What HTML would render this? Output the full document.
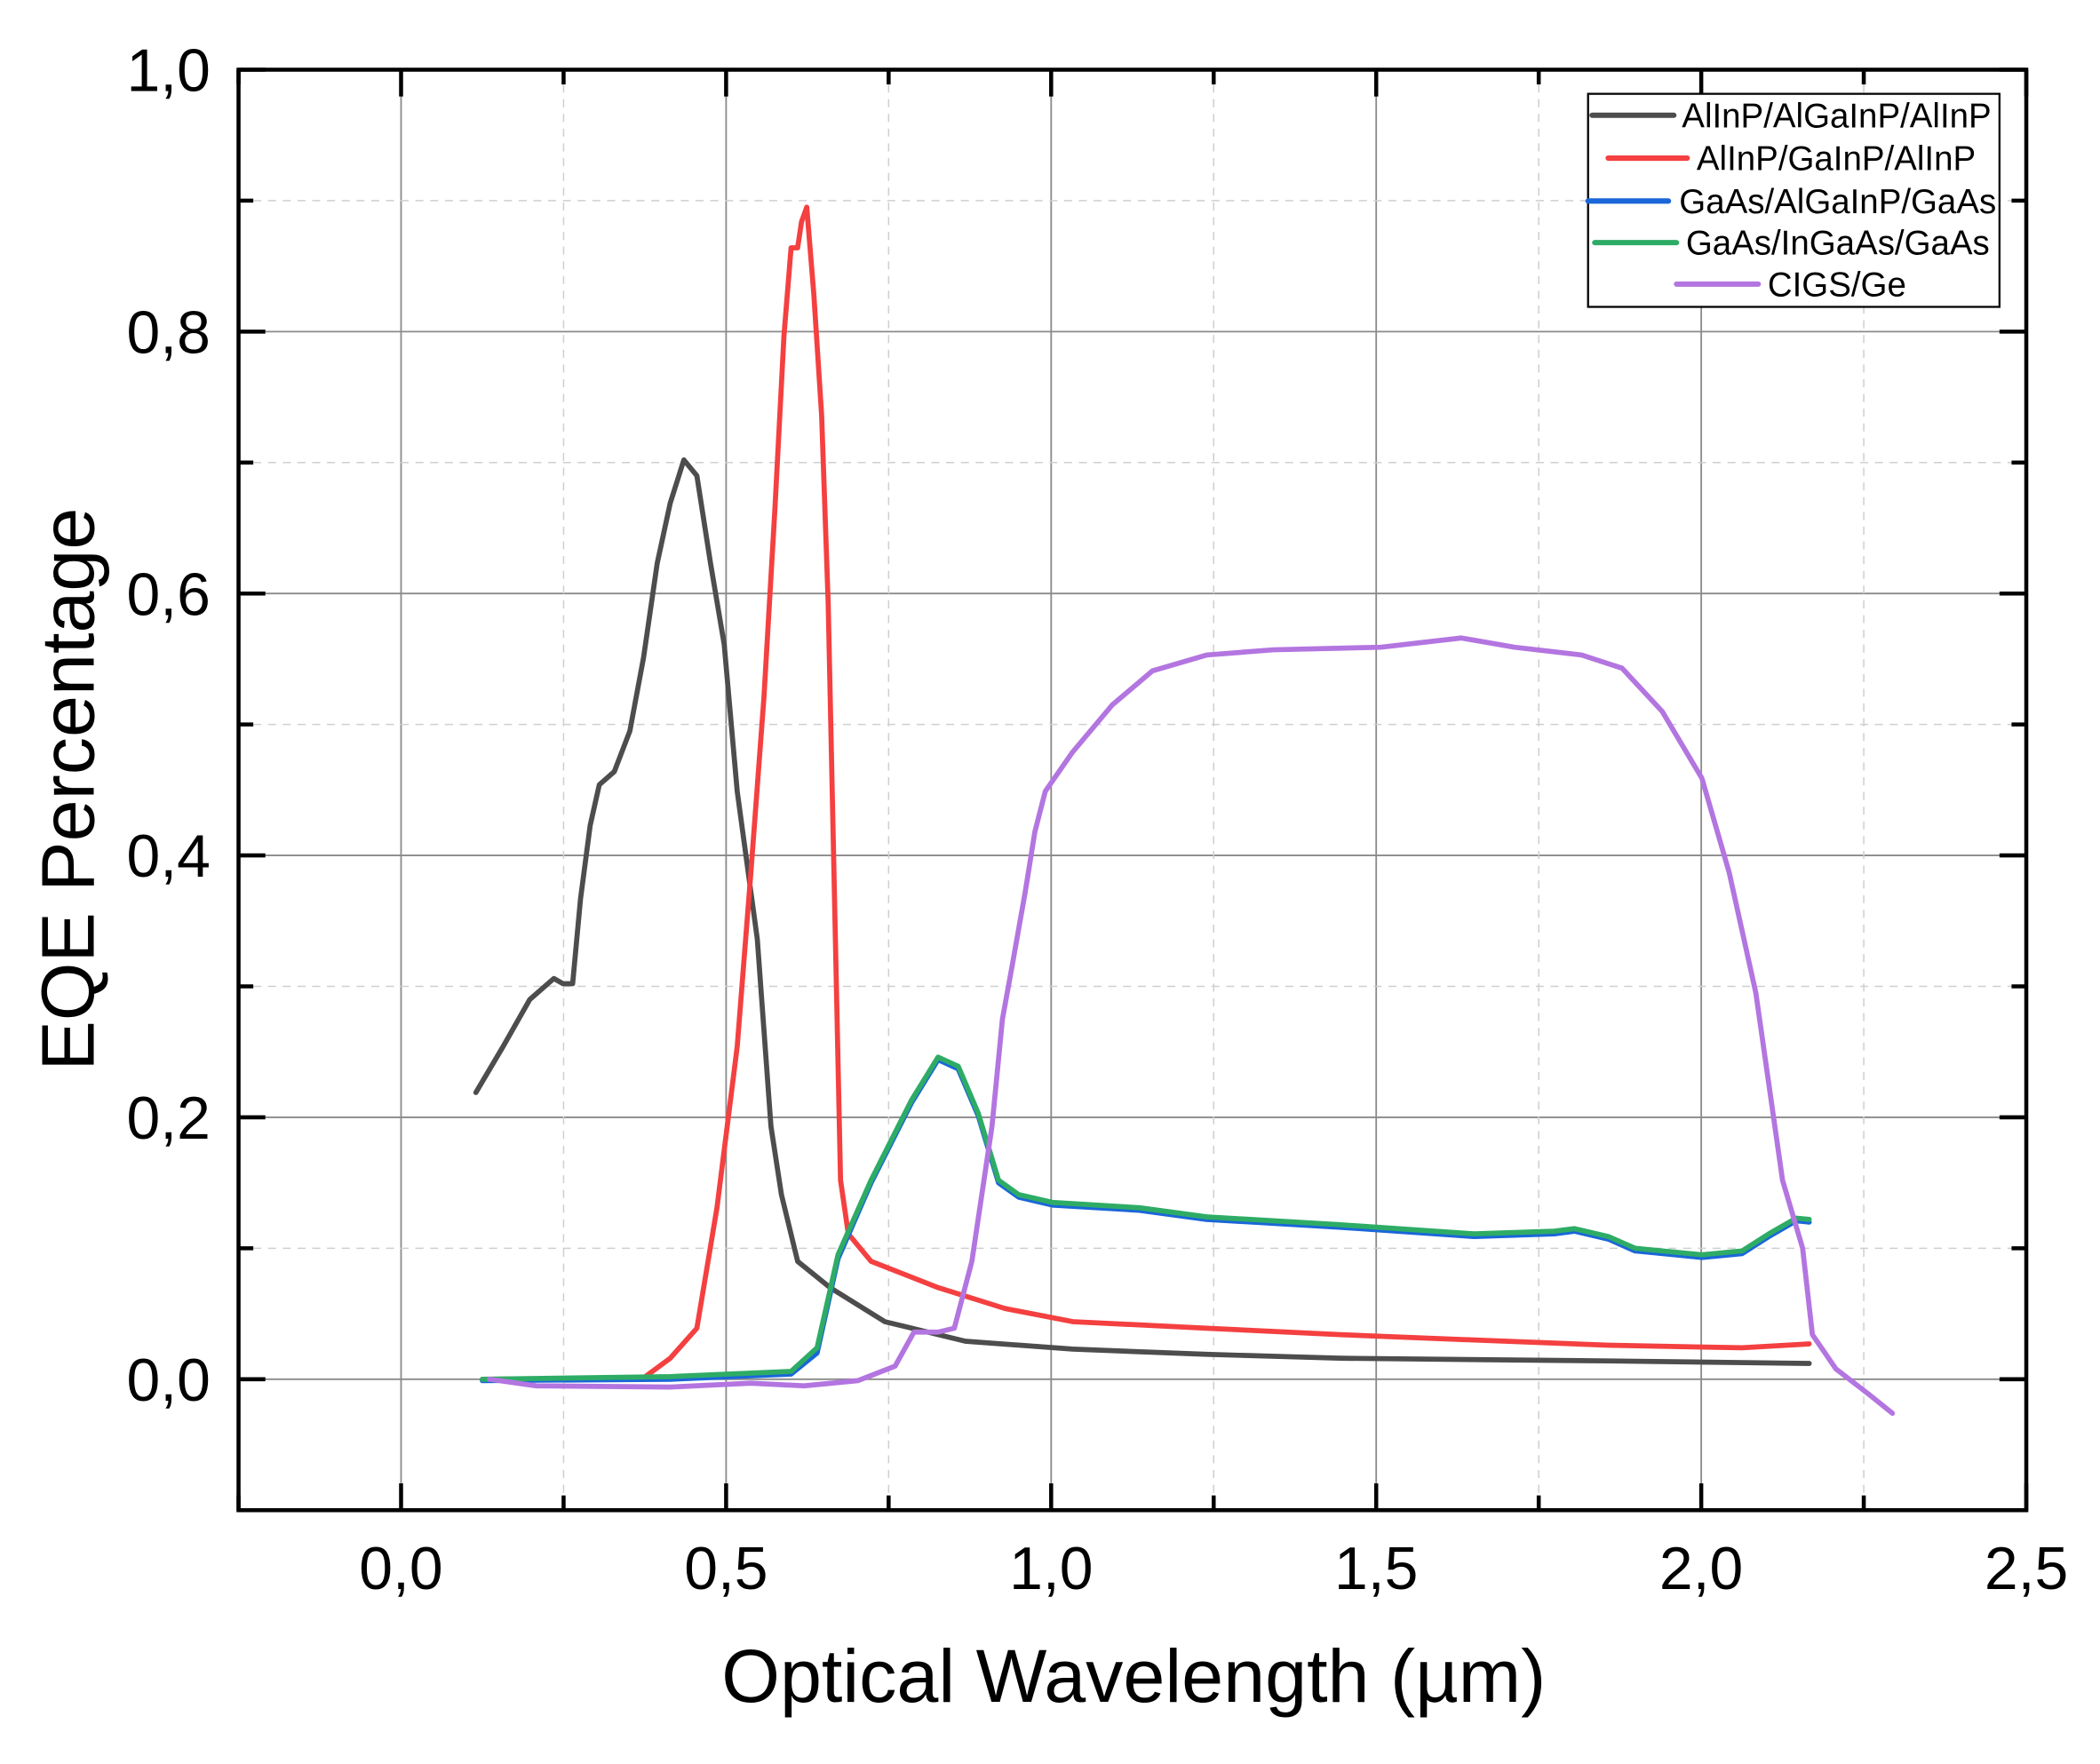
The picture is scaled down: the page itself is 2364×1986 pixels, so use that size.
<!DOCTYPE html>
<html><head><meta charset="utf-8"><style>
html,body{margin:0;padding:0;background:#fff}
svg{display:block}
text{font-family:"Liberation Sans",Arial,sans-serif;fill:#000}
</style></head><body>
<svg id="chart" width="2364" height="1986" viewBox="0 0 1567 1316.4" xmlns="http://www.w3.org/2000/svg">
<rect width="1567" height="1316.4" fill="#fff"/>
<g id="grid"></g>
<g id="series"></g>
<g id="axes"></g>
<text x="846" y="1270" font-size="56" text-anchor="middle">Optical Wavelength (µm)</text>
<text x="0" y="0" font-size="56" text-anchor="middle" transform="translate(70,589) rotate(-90)">EQE Percentage</text>
<g id="legend">
<rect x="1185" y="70" width="307" height="159" fill="#fff" stroke="#000" stroke-width="1.5"/>
</g>
</svg>
<script>
const xTicks=[0,0.5,1.0,1.5,2.0,2.5];
const xTickLabels=["0,0","0,5","1,0","1,5","2,0","2,5"];
const yTicks=[0,0.2,0.4,0.6,0.8,1.0];
const yTickLabels=["0,0","0,2","0,4","0,6","0,8","1,0"];
const xMinor=[-0.25,0.25,0.75,1.25,1.75,2.25];
const yMinor=[-0.1,0.1,0.3,0.5,0.7,0.9];
const seriesNames=["AlInP/AlGaInP/AlInP","AlInP/GaInP/AlInP","GaAs/AlGaInP/GaAs","GaAs/InGaAs/GaAs","CIGS/Ge"];
const seriesColors=["#4d4d4d","#f44040","#1a66d9","#2eac66","#b375e0"];
const blackX=[0.115,0.157,0.198,0.235,0.249,0.264,0.276,0.291,0.305,0.328,0.352,0.373,0.394,0.414,0.435,0.455,0.476,0.497,0.517,0.548,0.569,0.585,0.610,0.66,0.744,0.868,1.033,1.239,1.445,1.857,2.166];
const blackY=[0.219,0.254,0.29,0.306,0.302,0.302,0.367,0.423,0.454,0.464,0.495,0.551,0.623,0.669,0.702,0.69,0.623,0.561,0.449,0.336,0.193,0.141,0.090,0.07,0.044,0.029,0.023,0.019,0.016,0.014,0.012];
const redX=[0.125,0.373,0.414,0.455,0.486,0.517,0.538,0.558,0.575,0.589,0.6,0.610,0.616,0.624,0.635,0.647,0.657,0.666,0.676,0.688,0.723,0.826,0.929,1.033,1.239,1.445,1.651,1.857,2.063,2.166];
const redY=[0,0.001,0.016,0.039,0.131,0.254,0.387,0.52,0.664,0.797,0.864,0.864,0.884,0.895,0.828,0.736,0.592,0.387,0.152,0.111,0.09,0.07,0.054,0.044,0.039,0.034,0.03,0.026,0.024,0.027];
const blueX=[0.125,0.414,0.6,0.64,0.672,0.723,0.785,0.826,0.857,0.888,0.919,0.95,1.002,1.136,1.239,1.445,1.651,1.774,1.805,1.857,1.898,2.001,2.063,2.104,2.146,2.166];
const blueY=[-0.001,0.0,0.004,0.02,0.092,0.15,0.211,0.244,0.237,0.201,0.15,0.139,0.133,0.129,0.122,0.116,0.109,0.111,0.113,0.107,0.098,0.093,0.096,0.109,0.121,0.120];
const greenX=[0.125,0.414,0.6,0.64,0.672,0.723,0.785,0.826,0.857,0.888,0.919,0.95,1.002,1.136,1.239,1.445,1.651,1.774,1.805,1.857,1.898,2.001,2.063,2.104,2.146,2.166];
const greenY=[0,0.002,0.006,0.024,0.095,0.152,0.213,0.246,0.239,0.203,0.152,0.141,0.135,0.131,0.124,0.118,0.111,0.113,0.115,0.109,0.1,0.095,0.098,0.111,0.123,0.122];
const purpleX=[0.136,0.208,0.414,0.538,0.62,0.703,0.76,0.789,0.826,0.851,0.878,0.909,0.925,0.94,0.96,0.975,0.991,1.033,1.094,1.156,1.239,1.342,1.507,1.631,1.713,1.816,1.878,1.94,2.001,2.043,2.084,2.125,2.156,2.171,2.207,2.259,2.294];
const purpleY=[0,-0.005,-0.006,-0.003,-0.005,-0.001,0.01,0.036,0.036,0.039,0.09,0.193,0.275,0.316,0.372,0.418,0.449,0.479,0.515,0.541,0.553,0.557,0.559,0.566,0.559,0.553,0.543,0.51,0.459,0.387,0.295,0.152,0.1,0.034,0.008,-0.012,-0.026];

const NS="http://www.w3.org/2000/svg";
const L=178,R=1512,T=52,B=1127;
const xMin=-0.25,xMax=2.5,yMin=-0.1,yMax=1.0;
function sx(v){return L+(v-xMin)/(xMax-xMin)*(R-L);}
function sy(v){return B-(v-yMin)/(yMax-yMin)*(B-T);}
function mk(tag,attrs,parent){const e=document.createElementNS(NS,tag);for(const k in attrs)e.setAttribute(k,attrs[k]);parent.appendChild(e);return e;}
const grid=document.getElementById('grid'),axes=document.getElementById('axes'),ser=document.getElementById('series'),leg=document.getElementById('legend');
xTicks.forEach(v=>{const e=mk('line',{x1:sx(v),x2:sx(v),y1:T,y2:B,stroke:'#8a8a8a','stroke-width':1.2},grid);

});
yTicks.forEach(v=>{const e=mk('line',{x1:L,x2:R,y1:sy(v),y2:sy(v),stroke:'#8a8a8a','stroke-width':1.2},grid);

});
xMinor.forEach(v=>{const e=mk('line',{x1:sx(v),x2:sx(v),y1:T,y2:B,stroke:'#cfcfcf','stroke-width':1,'stroke-dasharray':'6,5'},grid);

});
yMinor.forEach(v=>{const e=mk('line',{x1:L,x2:R,y1:sy(v),y2:sy(v),stroke:'#cfcfcf','stroke-width':1,'stroke-dasharray':'6,5'},grid);

});
const allX=[blackX,redX,blueX,greenX,purpleX],allY=[blackY,redY,blueY,greenY,purpleY];
const keys=['series-alinp-algainp-alinp','series-alinp-gainp-alinp','series-gaas-algainp-gaas','series-gaas-ingaas-gaas','series-cigs-ge'];
allX.forEach((xs,i)=>{const d=xs.map((x,j)=>(j?'L':'M')+sx(x).toFixed(1)+','+sy(allY[i][j]).toFixed(1)).join(' ');
const p=mk('path',{d:d,fill:'none',stroke:seriesColors[i],'stroke-width':3.8,'stroke-linejoin':'round','stroke-linecap':'round'},ser);

});
const frame=mk('rect',{x:L,y:T,width:R-L,height:B-T,fill:'none',stroke:'#000','stroke-width':3},axes);


xTicks.forEach((v,i)=>{mk('line',{x1:sx(v),x2:sx(v),y1:B,y2:B-20,stroke:'#000','stroke-width':3},axes);mk('line',{x1:sx(v),x2:sx(v),y1:T,y2:T+20,stroke:'#000','stroke-width':3},axes);
const t=mk('text',{x:sx(v),y:1186,'font-size':45,'text-anchor':'middle'},axes);t.textContent=xTickLabels[i];

});
xMinor.forEach(v=>{mk('line',{x1:sx(v),x2:sx(v),y1:B,y2:B-11,stroke:'#000','stroke-width':3},axes);mk('line',{x1:sx(v),x2:sx(v),y1:T,y2:T+11,stroke:'#000','stroke-width':3},axes);});
yTicks.forEach((v,i)=>{mk('line',{x1:L,x2:L+20,y1:sy(v),y2:sy(v),stroke:'#000','stroke-width':3},axes);mk('line',{x1:R,x2:R-20,y1:sy(v),y2:sy(v),stroke:'#000','stroke-width':3},axes);
const t=mk('text',{x:157,y:sy(v)+16,'font-size':45,'text-anchor':'end'},axes);t.textContent=yTickLabels[i];

});
yMinor.forEach(v=>{mk('line',{x1:L,x2:L+11,y1:sy(v),y2:sy(v),stroke:'#000','stroke-width':3},axes);mk('line',{x1:R,x2:R-11,y1:sy(v),y2:sy(v),stroke:'#000','stroke-width':3},axes);});
const legX1=[1188,1200,1185,1190,1251],legX2=[1249,1259,1245,1251,1312],legTx=[1255,1266,1253,1258,1319],legY=[86,118,150,181,212];
seriesNames.forEach((n,i)=>{const g=mk('g',{},leg);


mk('line',{x1:legX1[i],x2:legX2[i],y1:legY[i],y2:legY[i],stroke:seriesColors[i],'stroke-width':4,'stroke-linecap':'round'},g);
const t=mk('text',{x:legTx[i],y:legY[i]+9,'font-size':25.5},g);t.textContent=n;});
</script>
</body></html>
